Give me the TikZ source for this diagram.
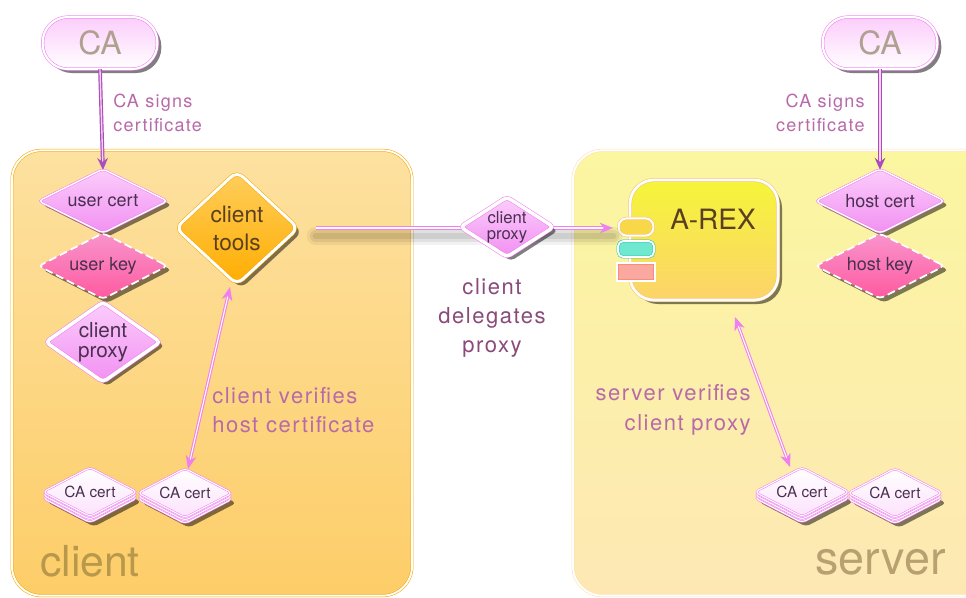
\documentclass[tikz,border=0pt]{standalone}
\usepackage{fontspec}
\setmainfont{TeX Gyre Heros}
\newfontfamily\spaced[LetterSpace=7]{TeX Gyre Heros}
\usetikzlibrary{shapes.geometric,shadows,arrows.meta}
\definecolor{pinkline}{HTML}{F080F0}
\definecolor{lblc}{HTML}{B86AA8}
\definecolor{lbldark}{HTML}{8A4A7A}
\definecolor{dtext}{HTML}{4A3050}
\definecolor{orangeline}{HTML}{F5A800}
\definecolor{caline}{HTML}{A850B8}
\definecolor{pink1}{HTML}{FBCDFB}
\definecolor{pink2}{HTML}{F290F2}
\definecolor{key1}{HTML}{F894CC}
\definecolor{key2}{HTML}{FF5AA0}
\definecolor{pale}{HTML}{FCE2FC}
\definecolor{cagray}{HTML}{B0A090}
\definecolor{clienttop}{HTML}{FDE1A0}
\definecolor{clientbot}{HTML}{FDCD68}
\definecolor{serverline}{HTML}{FDE0B0}
\definecolor{servertop}{HTML}{FBF6A0}
\definecolor{serverbot}{HTML}{FDE8B4}
\definecolor{clientlbl}{HTML}{B8984A}
\definecolor{serverlbl}{HTML}{B8A070}
\definecolor{tools1}{HTML}{FFCE5C}
\definecolor{tools2}{HTML}{FFAD00}
\definecolor{toolstext}{HTML}{5A4020}
\definecolor{arexline}{HTML}{F8C070}
\definecolor{arex1}{HTML}{F5F53A}
\definecolor{arex2}{HTML}{FCD36A}
\definecolor{pillfill}{HTML}{F8D848}
\definecolor{tealline}{HTML}{20C8B0}
\definecolor{tealfill}{HTML}{70E8D0}
\definecolor{salmonline}{HTML}{F89078}
\definecolor{salmonfill}{HTML}{FBA8A0}
\tikzset{
  shad/.style={drop shadow={fill=black, opacity=0.5, shadow xshift=3pt, shadow yshift=-3pt}},
  lbl/.style={text=lblc, font=\spaced\fontsize{13.5}{18.5}\selectfont, inner sep=0pt},
  lblbig/.style={text=lblc, font=\spaced\fontsize{16.5}{22}\selectfont, inner sep=0pt},
  dia/.style={diamond, inner sep=0pt, rounded corners=3pt, text=dtext, align=center},
  certd/.style={dia, aspect=1.36, minimum width=97pt, minimum height=45pt, draw=pinkline, double=white, double distance=1pt,
     top color=pink1, bottom color=pink2, font=\fontsize{13.5}{15}\selectfont, shad},
  keyd/.style={dia, aspect=1.36, minimum width=97pt, minimum height=45pt, draw=white, dash pattern=on 6pt off 3pt, line width=1.3pt,
     top color=key1, bottom color=key2, font=\fontsize{13.5}{15}\selectfont, shad},
  proxyd/.style={dia, aspect=1.6, draw=pinkline, double=white, double distance=2.6pt, top color=pink1, bottom color=pink2, shad},
  cacert/.style={dia, aspect=1.7, minimum width=71pt, minimum height=37pt, draw=pinkline, double=white, double distance=0.8pt,
     top color=white, bottom color=pale, font=\fontsize{11.5}{13}\selectfont},
  cacertback/.style={dia, aspect=1.7, minimum width=71pt, minimum height=37pt, draw=pinkline, double=white, double distance=0.8pt, fill=pale},
  casta/.style={rectangle, rounded corners=19pt, minimum width=86pt, minimum height=39pt, draw=pinkline, double=white,
     double distance=1.6pt, top color=pink1, bottom color=white, text=cagray, font=\fontsize{24}{26}\selectfont, shad},
  box/.style={rectangle, rounded corners=22pt, double distance=1.4pt},
  conn/.style={draw=pinkline, double=white, double distance=0.8pt, line width=0.8pt},
  caarrow/.style={draw=caline, double=pink1, double distance=1pt, line width=0.9pt, -{Stealth[length=9pt,width=8pt,fill=caline]}},
  dblarrow/.style={draw=pinkline, double=white, double distance=0.8pt, line width=0.8pt,
     {Stealth[length=10pt,width=8pt,fill=pinkline,inset=3pt]}-{Stealth[length=10pt,width=8pt,fill=pinkline,inset=3pt]}},
}
\begin{document}
\begin{tikzpicture}[x=0.75pt,y=-0.75pt]
\clip (0,0) rectangle (966,597);
\fill[white] (0,0) rectangle (966,597);
% containers
\node[box, draw=orangeline, double=white, top color=clienttop, bottom color=clientbot,
  minimum width=300pt, minimum height=334pt] (client) at (212,373) {};
\node[box, draw=serverline, double=white, top color=servertop, bottom color=serverbot,
  minimum width=327pt, minimum height=334pt] (server) at (791,373) {};
\node[anchor=base west, text=clientlbl, font=\fontsize{32}{34}\selectfont, inner sep=0pt] (clientlab) at (40,576) {client};
\node[anchor=base east, text=serverlbl, font=\fontsize{35}{37}\selectfont, inner sep=0pt] (serverlab) at (946,574) {server};
% CA nodes
\node[casta] (ca1) at (100,43) {CA};
\node[casta] (ca2) at (880,43) {CA};
% left diamonds
\node[certd] (ucert) at (103,201) {user cert};
\node[keyd] (ukey) at (103,266) {user key};
\node[proxyd, minimum width=86pt, minimum height=60pt, font=\fontsize{15.5}{17}\selectfont] (cproxy) at (103,342) {client\\[-2pt]proxy};
\node[dia, aspect=1, minimum width=92pt, minimum height=85pt, rounded corners=6pt, draw=orangeline, double=white, double distance=2.2pt,
  top color=tools1, bottom color=tools2, text=toolstext, font=\fontsize{17}{21}\selectfont, shad] (tools) at (237,228) {client\\tools};
% right diamonds
\node[certd] (hcert) at (880,201) {host cert};
\node[keyd] (hkey) at (880,266) {host key};
% A-REX
\node[rectangle, rounded corners=18pt, minimum width=111pt, minimum height=90pt, draw=arexline, double=white, double distance=2pt,
  top color=arex1, bottom color=arex2, shad] (arex) at (704,240) {};
\node[text=toolstext, font=\fontsize{21}{23}\selectfont, inner sep=0pt] (arexlbl) at (713,219) {A-REX};
\node[rectangle, rounded corners=6pt, minimum width=26pt, minimum height=13pt, draw=arexline, double=white, double distance=1.5pt,
  fill=pillfill, inner sep=0pt] (api1) at (636,227) {};
\node[rectangle, rounded corners=4pt, minimum width=27pt, minimum height=12pt, draw=tealline, double=white, double distance=1.4pt,
  fill=tealfill, inner sep=0pt] (api2) at (636,249) {};
\node[rectangle, minimum width=28pt, minimum height=13pt, draw=salmonline, double=white, double distance=1.4pt,
  fill=salmonfill, inner sep=0pt] (api3) at (636,272) {};
% CA certs
\foreach \cx/\cy in {90/492, 185/493, 802/492, 895/493}{
  \node[cacertback, shad] at (\cx,\cy+6) {};
  \node[cacertback] at (\cx,\cy+3) {};
}
\node[cacert] (cl1) at (90,492) {CA cert};
\node[cacert] (cl2) at (185,493) {CA cert};
\node[cacert] (cr1) at (802,492) {CA cert};
\node[cacert] (cr2) at (895,493) {CA cert};
% CA arrows
\draw[caarrow] (ca1.south) -- ([yshift=-1pt]ucert.north);
\draw[caarrow] (ca2.south) -- ([yshift=-1pt]hcert.north);
\node[lbl, anchor=west, align=left] (lblca1) at (113,113) {CA signs\\certificate};
\node[lbl, anchor=east, align=right] (lblca2) at (865,113) {CA signs\\certificate};
% delegation connector
\coordinate (dstart) at ([xshift=13pt]tools.east);
\coordinate (dend) at ([xshift=-4pt]api1.west |- tools.east);
\foreach \w/\o in {14/0.05, 9/0.07, 5/0.08}{
  \draw[black, opacity=\o, line width=\w pt, line cap=round] ([yshift=-6pt]dstart) -- ([yshift=-6pt]dend);
}
\draw[conn, -{Stealth[length=10pt,width=8pt,fill=pinkline,inset=3pt]}] (dstart) -- (dend);
\node[proxyd, minimum width=70pt, minimum height=45pt, font=\fontsize{12.5}{13}\selectfont] (dproxy) at (507,227) {client\\[-1pt]proxy};
\node[text=lbldark, font=\spaced\fontsize{16.5}{22}\selectfont, align=center, inner sep=0pt] (lbldel) at (492,318) {client\\delegates\\proxy};
% verification arrows
\coordinate (v1a) at (230,287);
\coordinate (v1b) at (188,469);
\draw[dblarrow] (v1a) -- (v1b);
\node[lblbig, anchor=west, align=left] (lblv1) at (212,410) {client verifies\\host certificate};
\coordinate (v2a) at (735,317);
\coordinate (v2b) at (790,467);
\draw[dblarrow] (v2a) -- (v2b);
\node[lblbig, anchor=east, align=right] (lblv2) at (751,410) {server verifies\\client proxy};
\end{tikzpicture}
\end{document}
